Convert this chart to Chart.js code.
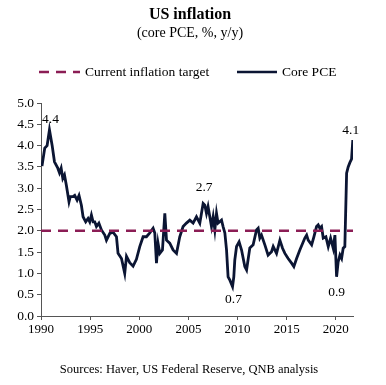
<!DOCTYPE html>
<html>
<head>
<meta charset="utf-8">
<script src="https://cdn.jsdelivr.net/npm/chart.js@4.4.1/dist/chart.umd.min.js"></script>
<style>
  html, body { margin: 0; padding: 0; background: #fff; }
  #wrap { width: 386px; height: 385px; position: relative; }
</style>
</head>
<body>
<div id="wrap"><canvas id="inflationChart"></canvas></div>
<script>
// data (decimal year, % y/y)
const pceYears = [
  1990.10, 1990.38, 1990.62, 1990.86, 1991.13, 1991.37, 1991.71, 1991.88, 1992.05, 1992.22,
  1992.39, 1992.58, 1992.85, 1992.98, 1993.26, 1993.43, 1993.67, 1993.87, 1994.11, 1994.28,
  1994.55, 1994.79, 1994.96, 1995.13, 1995.30, 1995.47, 1995.64, 1995.89, 1996.15, 1996.49,
  1996.66, 1997.00, 1997.33, 1997.68, 1997.84,
  1998.19, 1998.52, 1998.70, 1999.03, 1999.37, 1999.71, 2000.05, 2000.39, 2000.73, 2001.07,
  2001.41, 2001.58, 2001.75, 2001.91, 2002.09, 2002.36, 2002.60, 2002.77, 2003.10, 2003.44,
  2003.79, 2004.12, 2004.46, 2004.80, 2005.14, 2005.48, 2005.82, 2006.16, 2006.50, 2006.67,
  2006.84, 2007.00, 2007.35, 2007.52, 2007.69, 2007.86, 2008.02, 2008.37, 2008.53, 2008.71,
  2008.88, 2009.04, 2009.22, 2009.49, 2009.62, 2009.72, 2009.90, 2010.16, 2010.41, 2010.74,
  2010.92, 2011.25, 2011.59, 2011.93, 2012.10, 2012.27, 2012.44, 2012.78, 2013.11, 2013.46,
  2013.63, 2013.97, 2014.31, 2014.58, 2014.82, 2015.15, 2015.50, 2015.73, 2016.01, 2016.34,
  2016.85, 2017.03, 2017.19, 2017.54, 2017.77, 2018.04, 2018.21, 2018.38, 2018.55, 2018.72,
  2018.99, 2019.23, 2019.47, 2019.74, 2019.91, 2020.08, 2020.24, 2020.42, 2020.59, 2020.75,
  2020.92, 2021.10, 2021.26, 2021.43, 2021.60, 2021.73
];
const pceValues = [
  3.52, 3.94, 4.00, 4.37, 4.01, 3.62, 3.47, 3.36, 3.47, 3.23,
  3.31, 3.07, 2.68, 2.80, 2.80, 2.83, 2.72, 2.83, 2.60, 2.33,
  2.21, 2.29, 2.21, 2.37, 2.21, 2.21, 2.10, 2.18, 2.02, 1.90,
  1.78, 1.94, 1.97, 1.86, 1.47,
  1.35, 1.00, 1.40, 1.25, 1.17, 1.33, 1.63, 1.86, 1.86, 1.95,
  2.06, 1.95, 1.24, 1.71, 1.47, 1.55, 2.41, 1.78, 1.71, 1.55,
  1.47, 1.86, 2.10, 2.18, 2.25, 2.18, 2.33, 2.18, 2.64, 2.60,
  2.41, 2.57, 2.10, 2.33, 2.02, 2.41, 2.18, 2.25, 2.10, 1.95,
  1.55, 0.92, 0.84, 0.69, 0.92, 1.31, 1.63, 1.74, 1.55, 1.16,
  1.08, 1.60, 1.67, 2.02, 2.06, 1.83, 1.90, 1.67, 1.43, 1.51,
  1.63, 1.47, 1.78, 1.59, 1.47, 1.35, 1.24, 1.16, 1.35, 1.55,
  1.83, 1.90, 1.78, 1.67, 1.86, 2.10, 2.14, 2.06, 2.10, 1.83,
  1.86, 1.63, 1.83, 1.59, 1.90, 0.92, 1.27, 1.43, 1.35, 1.59,
  1.63, 3.35, 3.50, 3.60, 3.68, 4.13
];
const targetYears = [1990, 2021.75];
const targetValues = [2.0, 2.0];
const xTicks = [1990, 1995, 2000, 2005, 2010, 2015, 2020];
const yTicks = [0, 0.5, 1, 1.5, 2, 2.5, 3, 3.5, 4, 4.5, 5];

// labelled highs and lows
const markLabels = ['4.4', '2.7', '0.7', '0.9', '4.1'];
const markYears = [1990.86, 2006.50, 2009.49, 2020.08, 2021.73];
const markValues = [4.37, 2.64, 0.69, 0.92, 4.13];

const SERIF = "'Liberation Serif', 'Times New Roman', serif";
const NAVY = '#0b1533';
const MAROON = '#8b1d55';

const toPoints = (xs, ys) => xs.map((x, i) => ({ x: x, y: ys[i] }));

// titles, legend, source and the point labels
const decorPlugin = {
  id: 'decor',
  afterDraw(chart) {
    const ctx = chart.ctx;
    const xs = chart.scales.x, ys = chart.scales.y;
    ctx.save();
    ctx.fillStyle = '#000';
    ctx.textAlign = 'center';
    ctx.textBaseline = 'middle';
    ctx.font = 'bold 16px ' + SERIF;
    ctx.fillText('US inflation', 190, 15);
    ctx.font = '14px ' + SERIF;
    ctx.fillText('(core PCE, %, y/y)', 190, 33);

    // legend
    ctx.lineWidth = 2.5;
    ctx.strokeStyle = MAROON;
    ctx.setLineDash([10, 7]);
    ctx.beginPath(); ctx.moveTo(39, 72); ctx.lineTo(80, 72); ctx.stroke();
    ctx.setLineDash([]);
    ctx.strokeStyle = NAVY;
    ctx.beginPath(); ctx.moveTo(237, 72); ctx.lineTo(277, 72); ctx.stroke();
    ctx.font = '13.5px ' + SERIF;
    ctx.textAlign = 'left';
    ctx.fillText('Current inflation target', 85, 72);
    ctx.fillText('Core PCE', 282, 72);

    // source
    ctx.textAlign = 'center';
    ctx.font = '12.5px ' + SERIF;
    ctx.fillText('Sources: Haver, US Federal Reserve, QNB analysis', 189, 370);

    // value labels
    const offsets = [[1, -10], [1, -16], [1, 13], [0, 16], [-2, -10]];
    ctx.font = '13.5px ' + SERIF;
    markLabels.forEach((txt, i) => {
      const px = xs.getPixelForValue(markYears[i]) + offsets[i][0];
      const py = ys.getPixelForValue(markValues[i]) + offsets[i][1];
      ctx.fillText(txt, px, py);
    });
    ctx.restore();
  }
};

new Chart(document.getElementById('inflationChart'), {
  type: 'line',
  data: {
    datasets: [
      {
        label: 'Current inflation target',
        data: toPoints(targetYears, targetValues),
        borderColor: MAROON,
        borderWidth: 2.5,
        borderDash: [10, 7],
        pointRadius: 0
      },
      {
        label: 'Core PCE',
        data: toPoints(pceYears, pceValues),
        borderColor: NAVY,
        borderWidth: 2.8,
        pointRadius: 0,
        tension: 0
      }
    ]
  },
  options: {
    responsive: true,
    maintainAspectRatio: false,
    animation: false,
    layout: { padding: { top: 103, right: 33, bottom: 44, left: 0 } },
    plugins: {
      legend: { display: false },
      tooltip: { enabled: false }
    },
    scales: {
      x: {
        type: 'linear',
        min: 1990,
        max: 2021.75,
        afterFit: (s) => { s.height = 25; },
        afterBuildTicks: (s) => { s.ticks = xTicks.map(v => ({ value: v })); },
        grid: { drawOnChartArea: false, drawTicks: true, tickLength: 4, color: '#555' },
        border: { display: true, color: '#555', width: 1 },
        ticks: { color: '#000', padding: 2, maxRotation: 0, font: { family: SERIF, size: 13 }, callback: (v) => String(v) }
      },
      y: {
        min: 0,
        max: 5,
        afterFit: (s) => { s.width = 41; },
        afterBuildTicks: (s) => { s.ticks = yTicks.map(v => ({ value: v })); },
        grid: { drawOnChartArea: false, drawTicks: true, tickLength: 4, color: '#555' },
        border: { display: true, color: '#555', width: 1 },
        ticks: { color: '#000', padding: 3, font: { family: SERIF, size: 13.5 }, callback: (v) => v.toFixed(1) }
      }
    }
  },
  plugins: [decorPlugin]
});
</script>
</body>
</html>
